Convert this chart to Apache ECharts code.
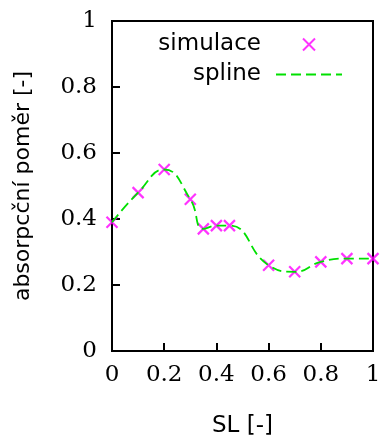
<!DOCTYPE html>
<html>
<head>
<meta charset="utf-8">
<script src="https://cdn.jsdelivr.net/npm/echarts@6/dist/echarts.min.js"></script>
<style>
  html, body { margin: 0; padding: 0; background: #fff; }
  #chart { width: 380px; height: 439px; }
</style>
</head>
<body>
<div id="chart"></div>
<script>
// SL values and simulated absorption ratio
const slValues = [0, 0.1, 0.2, 0.3, 0.35, 0.4, 0.45, 0.6, 0.7, 0.8, 0.9, 1.0];
const absorption = [0.39, 0.48, 0.55, 0.46, 0.37, 0.38, 0.38, 0.26, 0.24, 0.27, 0.28, 0.28];
const xTicks = [0, 0.2, 0.4, 0.6, 0.8, 1];
const yTicks = [0, 0.2, 0.4, 0.6, 0.8, 1];

const points = slValues.map((x, i) => [x, absorption[i]]);
const sans = 'DejaVu Sans';
const serif = 'DejaVu Serif';
const magenta = '#ff00ff';
const green = '#00e000';

const chart = echarts.init(document.getElementById('chart'));

const axisCommon = {
  type: 'value',
  min: 0,
  max: 1,
  interval: 0.2,
  splitLine: { show: false },
  axisLine: { show: true, lineStyle: { color: '#000', width: 2 } },
  axisTick: { show: true, inside: true, length: 8, lineStyle: { color: '#000', width: 2 } },
  nameLocation: 'middle',
  nameTextStyle: { fontFamily: sans, fontSize: 23, color: '#000' },
};

chart.setOption({
  animation: false,
  grid: {
    left: 112, right: 7, top: 21, bottom: 88,
    show: true, borderColor: '#000', borderWidth: 2,
    outerBoundsMode: 'none',
  },
  legend: [
    {
      data: ['simulace'],
      right: 64, top: 33, padding: 0,
      align: 'right', itemWidth: 66, itemHeight: 12,
      textStyle: { fontFamily: sans, fontSize: 23, color: '#000', padding: [0, 10, 0, 0] },
    },
    {
      data: ['spline'],
      right: 37, top: 63, padding: 0,
      align: 'right', itemWidth: 66, itemHeight: 12,
      itemStyle: { opacity: 0 },
      textStyle: { fontFamily: sans, fontSize: 23, color: '#000', padding: [0, 10, 0, 0] },
    },
  ],
  xAxis: Object.assign({}, axisCommon, {
    name: 'SL [-]',
    nameGap: 64,
    axisLabel: {
      margin: 13, fontFamily: serif, fontSize: 23, color: '#000',
      customValues: xTicks,
    },
    axisTick: Object.assign({}, axisCommon.axisTick, { customValues: xTicks }),
  }),
  yAxis: Object.assign({}, axisCommon, {
    name: 'absorpcční poměr [-]',
    nameGap: 78,
    nameTextStyle: { fontFamily: sans, fontSize: 22, color: '#000' },
    axisLabel: {
      margin: 15, fontFamily: serif, fontSize: 23, color: '#000',
      customValues: yTicks,
    },
    axisTick: Object.assign({}, axisCommon.axisTick, { customValues: yTicks }),
  }),
  series: [
    {
      name: 'simulace',
      type: 'scatter',
      data: points,
      symbol: 'path://M0,0L10,10M0,10L10,0',
      symbolSize: 11,
      itemStyle: { color: magenta, borderColor: magenta, borderWidth: 2.2 },
      z: 2,
    },
    {
      name: 'spline',
      type: 'line',
      data: points,
      smooth: 0.5,
      symbol: 'none',
      showSymbol: false,
      lineStyle: { color: green, width: 1.8, type: [10, 5] },
      itemStyle: { color: green },
      z: 3,
    },
  ],
});
</script>
</body>
</html>
